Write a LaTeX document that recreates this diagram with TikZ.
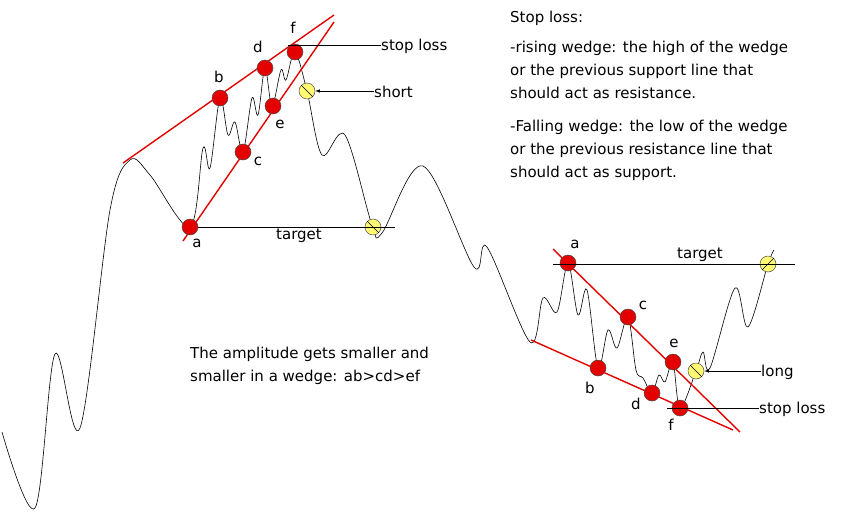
\documentclass[tikz,border=0pt]{standalone}
\usepackage{fontspec}
\setmainfont{DejaVu Sans}
\begin{document}
\begin{tikzpicture}[x=1pt,y=-1pt,
  red/.style={circle,draw=black!70,fill=red!90!black,minimum size=16pt,inner sep=0pt,line width=0.5pt},
  yel/.style={circle,draw=black!70,fill=yellow!55,minimum size=16pt,inner sep=0pt,line width=0.5pt},
  wl/.style={draw=red!90!black,line width=1.4pt},
  thin/.style={draw=black,line width=0.6pt},
  txt/.style={font=\fontsize{15}{18}\selectfont,inner sep=0pt},
  lbl/.style={font=\fontsize{15}{18}\selectfont,inner sep=0pt}]
\useasboundingbox (0,0) rectangle (863,520);
% price curve
\draw[line width=0.6pt] plot[smooth,tension=0.55] coordinates{
(2,432) (35,508) (55,354) (80,428) (110,210) (130,160) (150,175) (190,227)
(203,148) (210,168) (220,98) (228,135) (235,122) (243,152) (252,98) (258,115) (265,68)
(272,106) (281,70) (286,80) (295,52) (307,91) (322,155) (345,135) (372,225)
(382,233) (423,166) (474,267) (487,247) (530,342) (543,298) (557,312) (568,263)
(578,315) (587,290) (598,368) (608,330) (617,348) (628,317) (636,370) (643,378) (652,393)
(659,375) (665,382) (673,362) (680,408) (696,371) (703,352) (710,368) (735,288) (748,327) (768,264) (774,250)};
% wedge lines
\coordinate (u1) at (123,163); \coordinate (u2) at (334,15);
\coordinate (l1) at (183,241); \coordinate (l2) at (334,22);
\draw[wl] (u1) -- (u2); \draw[wl] (l1) -- (l2);
\coordinate (ru1) at (553,249); \coordinate (ru2) at (740,432);
\coordinate (rl1) at (531,340); \coordinate (rl2) at (733,430);
\draw[wl] (ru1) -- (ru2); \draw[wl] (rl1) -- (rl2);
% left points
\node[red] (a) at (190,227) {}; \node[red] (b) at (220,98) {};
\node[red] (c) at (243,152) {}; \node[red] (d) at (265,68) {};
\node[red] (e) at (273,106) {}; \node[red] (f) at (295,52) {};
\node[yel] (s) at (307,91) {}; \node[yel] (t) at (373,227) {};
\draw[thin] (s.north west)--(s.south east); \draw[thin] (t.north west)--(t.south east);
\node[lbl] at (197,243) {a}; \node[lbl] at (219,77) {b}; \node[lbl] at (258,161) {c};
\node[lbl] at (258,47) {d}; \node[lbl] at (280,124) {e}; \node[lbl] at (293,28) {f};
\coordinate (tl) at (395,227); \draw[thin] (a) -- (tl);
\node[lbl,anchor=north] (tg) at (299,229) {target};
\node[lbl,anchor=west] (sl) at (381,46) {stop loss};
\coordinate (slc) at (288,45); \draw[thin] (slc) -- (slc -| sl.west);
\node[lbl,anchor=west] (sh) at (374,92) {short};
\draw[thin,-latex] (sh.west |- s.east) -- (s.east);
% right points
\node[red] (ra) at (568,263) {}; \node[red] (rb) at (598,368) {};
\node[red] (rc) at (628,317) {}; \node[red] (rd) at (652,393) {};
\node[red] (re) at (673,362) {}; \node[red] (rf) at (680,408) {};
\node[yel] (lg) at (696,371) {}; \node[yel] (rt) at (768,264) {};
\draw[thin] (lg.north west)--(lg.south east); \draw[thin] (rt.north east)--(rt.south west);
\node[lbl] at (575,244) {a}; \node[lbl] at (643,305) {c}; \node[lbl] at (674,343) {e};
\node[lbl] at (590,388) {b}; \node[lbl] at (636,404) {d}; \node[lbl] at (671,425) {f};
\coordinate (rt1) at (553,264); \coordinate (rt2) at (795,264);
\draw[thin] (rt1) -- (rt2);
\node[lbl,anchor=south] at (700,262) {target};
\node[lbl,anchor=west] (lo) at (761,372) {long};
\draw[thin,-latex] (lo.west |- lg.east) -- (lg.east);
\node[lbl,anchor=west] (rsl) at (759,409) {stop loss};
\coordinate (rslc) at (667,408); \draw[thin] (rslc) -- (rslc -| rsl.west);
% texts
\node[txt,anchor=west] at (510,18) {Stop loss:};
\node[txt,anchor=north west,align=left,font=\fontsize{15}{23}\selectfont] at (510,41)
 {-rising wedge: the high of the wedge\\or the previous support line that\\should act as resistance.};
\node[txt,anchor=north west,align=left,font=\fontsize{15}{23}\selectfont] at (510,120)
 {-Falling wedge: the low of the wedge\\or the previous resistance line that\\should act as support.};
\node[txt,anchor=north west,align=left,font=\fontsize{15}{23}\selectfont] at (190,347)
 {The amplitude gets smaller and\\smaller in a wedge: ab>cd>ef};
\end{tikzpicture}
\end{document}
